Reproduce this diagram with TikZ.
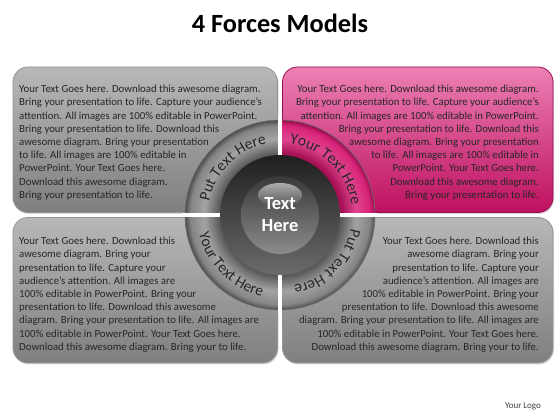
\documentclass[tikz,border=0pt]{standalone}
\usepackage{fontspec}
\setmainfont{Carlito}
\usetikzlibrary{decorations.text,shadows}

\definecolor{pinkhi}{RGB}{236,128,180}
\definecolor{pinkmid}{RGB}{216,36,122}
\definecolor{pinklo}{RGB}{190,16,96}
\definecolor{inktext}{RGB}{38,38,38}
\pgfdeclareradialshading{ringgray}{\pgfpoint{0bp}{0bp}}{color(0bp)=(black!65); color(15.6bp)=(black!65); color(16bp)=(black!65); color(20bp)=(black!36); color(23.6bp)=(black!48); color(25bp)=(black!70); color(50bp)=(black!70)}
\pgfdeclareradialshading{ringpink}{\pgfpoint{0bp}{0bp}}{color(0bp)=(pinklo); color(15.6bp)=(pinklo); color(16bp)=(pinklo!85!black); color(20bp)=(pinkmid!85!white); color(23.6bp)=(pinkmid); color(25bp)=(pinklo!80!black); color(50bp)=(pinklo!80!black)}

\begin{document}
\begin{tikzpicture}[x=1pt, y=1pt,
  greybox/.style={rounded corners=15pt, draw=black!42, line width=0.8pt, top color=black!28, bottom color=black!50,
    drop shadow={shadow xshift=1pt, shadow yshift=-1.5pt, opacity=0.3}},
  pinkbox/.style={rounded corners=15pt, draw=pinklo!80!black, line width=0.8pt, top color=pinkhi, middle color=pinkmid, bottom color=pinklo,
    drop shadow={shadow xshift=1pt, shadow yshift=-1.5pt, opacity=0.3}},
  bodytxt/.style={inner sep=0pt, text=inktext, font=\fontsize{10.8}{13.2}\selectfont},
  gap/.style={white, line width=4.5pt},
  ringtxt/.style={decorate, decoration={text along path, text align=center, text color=black!85,
    text={|\fontsize{15.5}{15.5}\selectfont|#1}}},
]
  \useasboundingbox (0,0) rectangle (560,420);
  \node[font=\bfseries\fontsize{26.3}{26.3}\selectfont] (title) at (280,397) {4 Forces Models};

  % the four boxes
  \node[greybox, minimum width=264.5pt, minimum height=145.5pt] (tlbox) at (145.25,280.25) {};
  \node[pinkbox, minimum width=270.5pt, minimum height=145.5pt] (trbox) at (417.75,280.25) {};
  \node[greybox, minimum width=264.5pt, minimum height=145.5pt] (blbox) at (145.25,129.75) {};
  \node[greybox, minimum width=270.5pt, minimum height=145.5pt] (brbox) at (417.75,129.75) {};

  \node[bodytxt, align=left, anchor=north west] (tltext) at (19,335) {Your Text Goes here. Download this awesome diagram.\\
    Bring your presentation to life. Capture your audience’s\\
    attention. All images are 100\% editable in PowerPoint.\\
    Bring your presentation to life. Download this\\
    awesome diagram. Bring your presentation\\
    to life. All images are 100\% editable in\\
    PowerPoint. Your Text Goes here.\\
    Download this awesome diagram.\\
    Bring your presentation to life.};
  \node[bodytxt, align=right, anchor=north east] (trtext) at (539,335) {Your Text Goes here. Download this awesome diagram.\\
    Bring your presentation to life. Capture your audience’s\\
    attention. All images are 100\% editable in PowerPoint.\\
    Bring your presentation to life. Download this\\
    awesome diagram. Bring your presentation\\
    to life. All images are 100\% editable in\\
    PowerPoint. Your Text Goes here.\\
    Download this awesome diagram.\\
    Bring your presentation to life.};
  \node[bodytxt, align=left, anchor=north west] (bltext) at (19,183) {Your Text Goes here. Download this\\
    awesome diagram. Bring your\\
    presentation to life. Capture your\\
    audience’s attention. All images are\\
    100\% editable in PowerPoint. Bring your\\
    presentation to life. Download this awesome\\
    diagram. Bring your presentation to life. All images are\\
    100\% editable in PowerPoint. Your Text Goes here.\\
    Download this awesome diagram. Bring your to life.};
  \node[bodytxt, align=right, anchor=north east] (brtext) at (539,183) {Your Text Goes here. Download this\\
    awesome diagram. Bring your\\
    presentation to life. Capture your\\
    audience’s attention. All images are\\
    100\% editable in PowerPoint. Bring your\\
    presentation to life. Download this awesome\\
    diagram. Bring your presentation to life. All images are\\
    100\% editable in PowerPoint. Your Text Goes here.\\
    Download this awesome diagram. Bring your to life.};

  % hub
  \coordinate (c) at (280,205);
  \shade[shading=ringgray] (c) circle[radius=95];
  \begin{scope}
    \clip (c) rectangle ++(100,100);
    \shade[shading=ringpink] (c) circle[radius=95];
  \end{scope}
  \draw[black!55, line width=0.6pt] (c) circle[radius=95];
  \foreach \a in {0,90,180,270}
    \draw[gap] (c) -- ++(\a:98);
  \shade[top color=black!88, bottom color=black!58] (c) circle[radius=60];
  \shade[top color=black!78, bottom color=black!45] (c) circle[radius=39];
  \shade[top color=black!25, bottom color=black!68, opacity=0.85] ([yshift=20pt]c) ellipse[x radius=22, y radius=12];
  \node[text=white, align=center, font=\bfseries\fontsize{18.5}{22}\selectfont] (hub) at (c) {Text\\Here};

  \path[ringtxt=Put Text Here] (c) ++(180:72) arc[start angle=180, end angle=90, radius=72];
  \path[ringtxt=Your Text Here] (c) ++(90:72) arc[start angle=90, end angle=0, radius=72];
  \path[ringtxt=Your Text Here] (c) ++(180:83) arc[start angle=180, end angle=270, radius=83];
  \path[ringtxt=Put Text Here] (c) ++(0:72) arc[start angle=0, end angle=-90, radius=72];

  \node[text=black!75, font=\fontsize{9}{9}\selectfont] (logo) at (523,14) {Your Logo};
\end{tikzpicture}
\end{document}
